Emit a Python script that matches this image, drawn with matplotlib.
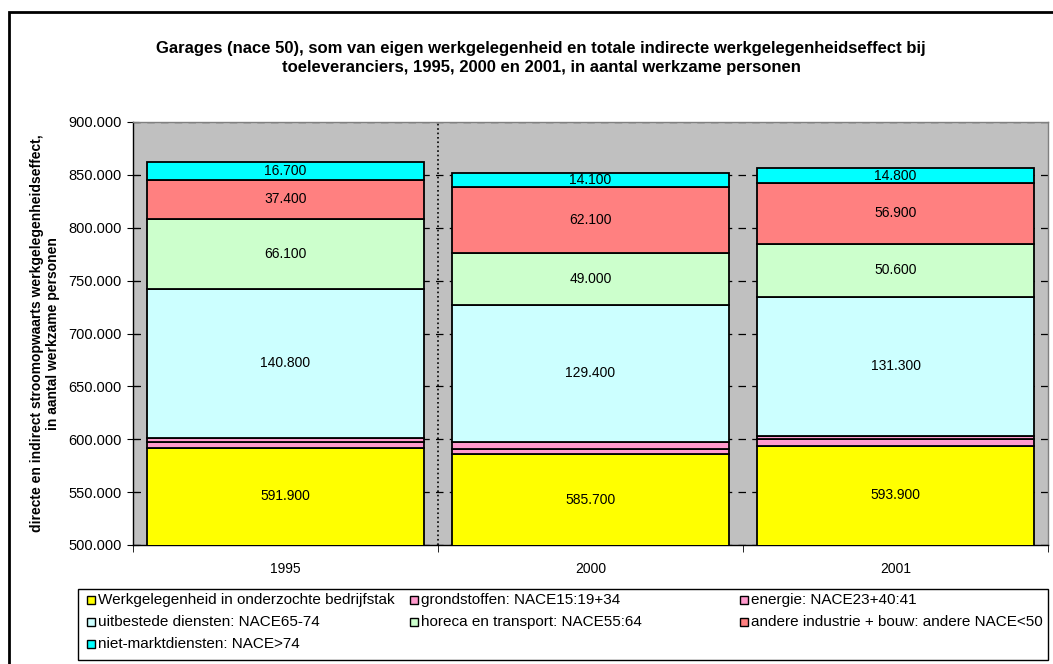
import numpy as np
import matplotlib
matplotlib.use("Agg")
import matplotlib.pyplot as plt
from matplotlib.patches import Rectangle
from matplotlib.ticker import FuncFormatter

plt.rcParams['font.family'] = ['Liberation Sans', 'DejaVu Sans']

years = ['1995', '2000', '2001']
series_names = [
    'Werkgelegenheid in onderzochte bedrijfstak',
    'grondstoffen: NACE15:19+34',
    'energie: NACE23+40:41',
    'uitbestede diensten: NACE65-74',
    'horeca en transport: NACE55:64',
    'andere industrie + bouw: andere NACE<50',
    'niet-marktdiensten: NACE>74',
]
eigen = [591900, 585700, 593900]
grondstoffen = [5700, 5300, 6500]
energie = [3700, 6600, 2800]
uitbesteed = [140800, 129400, 131300]
horeca = [66100, 49000, 50600]
andere = [37400, 62100, 56900]
nietmarkt = [16700, 14100, 14800]
show_label = [True, False, False, True, True, True, True]

colors = ['#FFFF00', '#FF99CC', '#FF99CC', '#CCFFFF', '#CCFFCC', '#FF8080', '#00FFFF']

W, H = 1053, 664
fig = plt.figure(figsize=(W / 100, H / 100), dpi=100)
fig.patch.set_facecolor('white')

def px(x0, y0, x1, y1):
    return [x0 / W, 1 - y1 / H, (x1 - x0) / W, (y1 - y0) / H]

ax = fig.add_axes(px(133, 122, 1048, 545))
ax.set_facecolor('#C0C0C0')

data = [eigen, grondstoffen, energie, uitbesteed, horeca, andere, nietmarkt]
x = np.arange(len(years))
bottom = np.zeros(len(years))
for vals, col, name, lab in zip(data, colors, series_names, show_label):
    vals = np.array(vals, dtype=float)
    ax.bar(x, vals, 0.91, bottom=bottom, color=col, edgecolor='black',
           linewidth=1.3, label=name, zorder=3)
    if lab:
        for xi, v, bt in zip(x, vals, bottom):
            mid = bt + v / 2
            if bt < 500000:
                mid = 500000 + (bt + v - 500000) / 2
            ax.text(xi, mid, f"{int(v):,}".replace(",", "."), ha='center',
                    va='center', fontsize=10, zorder=4)
    bottom += vals

ax.set_ylim(500000, 900000)
ax.set_xlim(-0.5, 2.5)
ax.set_yticks(np.arange(500000, 900001, 50000))
ax.yaxis.set_major_formatter(FuncFormatter(lambda v, p: f"{int(v):,}".replace(",", ".")))
ax.yaxis.grid(True, color='black', linestyle=(0, (6, 5)), linewidth=0.9, zorder=1)
ax.axvline(0.5, color='black', linestyle=':', linewidth=1.2, zorder=1)

ax.set_xticks(x)
ax.set_xticklabels(years)
ax.set_xticks([-0.5, 0.5, 1.5, 2.5], minor=True)
ax.tick_params(axis='x', which='major', length=0, pad=12, labelsize=10)
ax.tick_params(axis='x', which='minor', length=5, direction='out', color='black')
ax.tick_params(axis='y', which='major', length=8, direction='inout', labelsize=10.5, pad=4)

for s in ['left', 'bottom']:
    ax.spines[s].set_color('black')
    ax.spines[s].set_linewidth(1)
for s in ['top', 'right']:
    ax.spines[s].set_color('#808080')
    ax.spines[s].set_linewidth(1)

ax.set_ylabel('directe en indirect stroomopwaarts werkgelegenheidseffect,\nin aantal werkzame personen',
              fontsize=10, fontweight='bold', labelpad=6)

fig.text(541 / W, 1 - 58 / H,
         'Garages (nace 50), som van eigen werkgelegenheid en totale indirecte werkgelegenheidseffect bij\n'
         'toeleveranciers, 1995, 2000 en 2001, in aantal werkzame personen',
         ha='center', va='center', fontsize=12, fontweight='bold', linespacing=1.3)

# legend box
fig.add_artist(Rectangle((78 / W, 1 - 660 / H), (1048 - 78) / W, (660 - 589) / H,
                         transform=fig.transFigure, fill=False, edgecolor='black',
                         linewidth=1))
col_x = [91, 414, 744]
row_y = [600, 622, 644]
for i, (name, col) in enumerate(zip(series_names, colors)):
    r, c = divmod(i, 3)
    xs, ys = col_x[c], row_y[r]
    fig.add_artist(Rectangle(((xs - 4) / W, 1 - (ys + 4) / H), 8 / W, 8 / H,
                             transform=fig.transFigure, facecolor=col,
                             edgecolor='black', linewidth=1))
    fig.text((xs + 7) / W, 1 - ys / H, name, ha='left', va='center', fontsize=11)

# outer chart frame
fig.add_artist(Rectangle((9 / W, -0.1), 1.2, (H - 12) / H + 0.1,
                         transform=fig.transFigure, fill=False, edgecolor='black',
                         linewidth=2))

fig.savefig('out.png', dpi=100)
